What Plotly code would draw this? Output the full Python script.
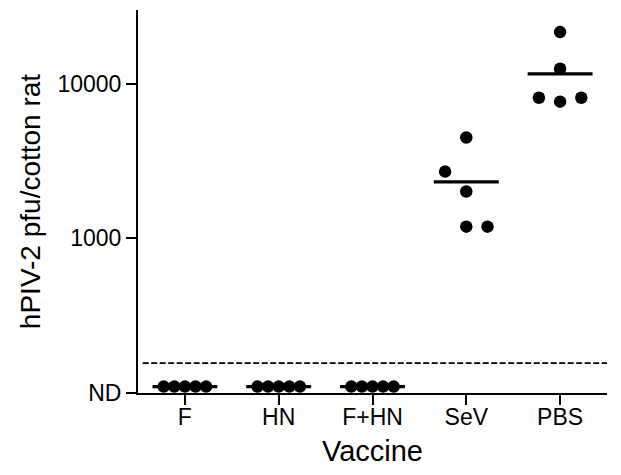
import numpy as np
import plotly.graph_objects as go

# ---- data ----
categories = ["F", "HN", "F+HN", "SeV", "PBS"]
# None = not detected (plotted on the ND row)
values_F = [None, None, None, None, None]
values_HN = [None, None, None, None, None]
values_FHN = [None, None, None, None, None]
values_SeV = [4490, 2705, 2010, 1190, 1190]
values_PBS = [21600, 12500, 8120, 7660, 8120]
# horizontal swarm slot of each point (as drawn in the reference)
slots_F = [-2, -1, 0, 1, 2]
slots_HN = [-2, -1, 0, 1, 2]
slots_FHN = [-2, -1, 0, 1, 2]
slots_SeV = [0, -2, 0, 0, 2]
slots_PBS = [0, 0, -2, 0, 2]
nd_value = 110          # level where non-detected samples are drawn
detection_limit = 156   # dashed line
ytick_vals = [100, 1000, 10000]
ytick_text = ["ND", "1000", "10000"]

groups = [values_F, values_HN, values_FHN, values_SeV, values_PBS]
slots = [slots_F, slots_HN, slots_FHN, slots_SeV, slots_PBS]

slot_w = 0.113
half_bar = 0.346
FONT = "Liberation Sans, Arial, sans-serif"

fig = go.Figure()
for i, (vals, sl) in enumerate(zip(groups, slots)):
    yv = [nd_value if v is None else v for v in vals]
    xs = [i + s * slot_w for s in sl]
    real = [v for v in vals if v is not None]
    m = float(np.mean(real)) if real else nd_value
    fig.add_trace(go.Scatter(x=[i - half_bar, i + half_bar], y=[m, m], mode="lines",
                             line=dict(color="black", width=3.2), showlegend=False,
                             hoverinfo="skip"))
    fig.add_trace(go.Scatter(x=xs, y=yv, mode="markers",
                             marker=dict(color="black", size=12.5, line=dict(width=0)),
                             showlegend=False))

fig.add_trace(go.Scatter(x=[-0.45, 4.5], y=[detection_limit, detection_limit], mode="lines",
                         line=dict(color="black", width=1.6, dash="6px,2.5px"),
                         showlegend=False, hoverinfo="skip"))

# page body has an 8px margin, so the figure is drawn 8px in from the window edge
fig.update_layout(
    width=605, height=459,
    margin=dict(l=130, r=6, t=2, b=74, autoexpand=False),
    paper_bgcolor="white", plot_bgcolor="white",
    font=dict(family=FONT, color="black"),
    showlegend=False,
)
fig.update_xaxes(
    range=[-0.5, 4.5], tickvals=list(range(len(categories))), ticktext=categories,
    showgrid=False, zeroline=False, showline=True, linecolor="black", linewidth=2,
    ticks="outside", ticklen=10, tickwidth=2, tickcolor="black",
    tickfont=dict(size=23, family=FONT), automargin=False, ticklabelstandoff=-8,
    title=dict(text="Vaccine", font=dict(size=29, family=FONT), standoff=17),
)
fig.update_yaxes(
    type="log", range=[2, np.log10(30000)], tickvals=ytick_vals, ticktext=ytick_text,
    showgrid=False, zeroline=False, showline=True, linecolor="black", linewidth=2,
    ticks="outside", ticklen=10, tickwidth=2, tickcolor="black",
    tickfont=dict(size=23, family=FONT), automargin=False, ticklabelstandoff=0,
    title=dict(text="hPIV-2 pfu/cotton rat", font=dict(size=28, family=FONT), standoff=9),
)

fig.write_html("out.html")
